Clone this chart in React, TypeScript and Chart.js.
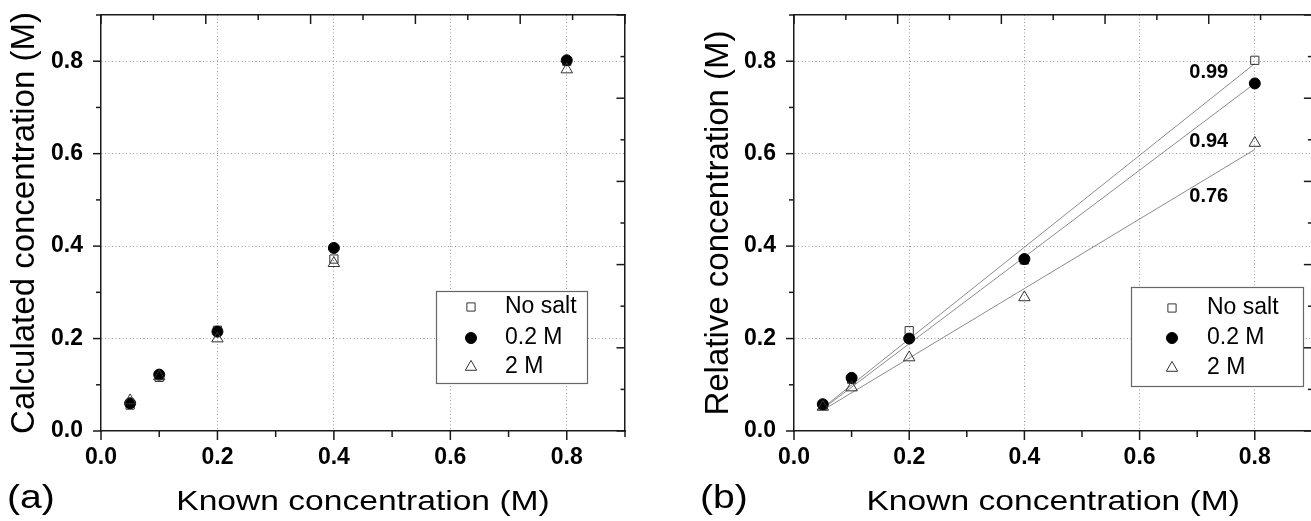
import React, { useEffect, useRef } from 'react';
import { Chart, registerables } from 'chart.js';

Chart.register(...registerables);

const FONT = "'Liberation Sans', Arial, Helvetica, sans-serif";
const NARROW = "'Liberation Sans Narrow', 'Arial Narrow', 'Liberation Sans', Arial, sans-serif";

// ---------- data ----------
const knownConc = [0.05, 0.1, 0.2, 0.4, 0.8];
const seriesLabels = ['No salt', '0.2 M', '2 M'];

// panel (a): calculated concentration
const calcNoSalt = [0.056, 0.116, 0.218, 0.372, 0.8];
const calc02M = [0.06, 0.122, 0.215, 0.396, 0.802];
const calc2M = [0.066, 0.118, 0.2, 0.363, 0.782];

// panel (b): relative concentration
const relNoSalt = [0.055, 0.112, 0.217, 0.37, 0.802];
const rel02M = [0.058, 0.115, 0.2, 0.372, 0.752];
const rel2M = [0.052, 0.094, 0.159, 0.289, 0.623];

// linear fits in panel (b)
const fitX = [0.05, 0.8];
const fitNoSalt = [0.05, 0.795];
const fit02M = [0.048, 0.752];
const fit2M = [0.045, 0.609];
const slopeTexts = ['0.99', '0.94', '0.76'];
const slopeTextX = [0.72, 0.72, 0.72];
const slopeTextY = [0.775, 0.627, 0.508];

const xTitle = 'Known concentration (M)';
const yTitles = ['Calculated concentration (M)', 'Relative concentration (M)'];
const panelLabels = ['(a)', '(b)'];

// ---------- styles ----------
const markerStyles = [
  { pointStyle: 'rect', radius: 5.8, fill: 'rgba(255,255,255,0)', stroke: '#333' },
  { pointStyle: 'circle', radius: 5.5, fill: '#000', stroke: '#000' },
  { pointStyle: 'triangle', radius: 6.6, fill: 'rgba(255,255,255,0)', stroke: '#333' },
];
const AXIS = '#1a1a1a';
const GRID = '#9a9a9a';

function drawMarker(ctx: CanvasRenderingContext2D, style: string, x: number, y: number, r: number, fill: string, stroke: string) {
  ctx.beginPath();
  if (style === 'circle') {
    ctx.arc(x, y, r, 0, Math.PI * 2);
  } else if (style === 'rect') {
    const s = r * Math.SQRT1_2;
    ctx.rect(x - s, y - s, 2 * s, 2 * s);
  } else {
    const a = (2 * Math.PI) / 3;
    ctx.moveTo(x, y - r);
    ctx.lineTo(x + r * Math.sin(a), y - r * Math.cos(a));
    ctx.lineTo(x + r * Math.sin(2 * a), y - r * Math.cos(2 * a));
    ctx.closePath();
  }
  ctx.fillStyle = fill;
  ctx.fill();
  ctx.strokeStyle = stroke;
  ctx.lineWidth = 1;
  ctx.stroke();
}

// ---------- plugins ----------
const frameTicksPlugin = {
  id: 'frameTicks',
  afterDraw(chart: any) {
    const { ctx, chartArea: ca } = chart;
    ctx.save();
    ctx.strokeStyle = AXIS;
    ctx.lineWidth = 1.5;
    const specs = [
      { id: 'x', side: 'bottom', step: 0.1, majorLen: 9, minorLen: 6 },
      { id: 'y', side: 'left', step: 0.1, majorLen: 8, minorLen: 5 },
      { id: 'x2', side: 'top', step: 0.1, majorLen: 9, minorLen: 5 },
      { id: 'y2', side: 'right', step: 0.1, majorLen: 8.5, minorLen: 4.5 },
    ];
    for (const s of specs) {
      const scale = chart.scales[s.id];
      if (!scale) continue;
      const n = Math.round((scale.max - scale.min) / s.step);
      for (let k = 0; k <= n; k++) {
        const v = scale.min + k * s.step;
        const major = k % 2 === 0;
        const len = major ? s.majorLen : s.minorLen;
        const p = scale.getPixelForValue(v);
        ctx.beginPath();
        if (s.side === 'bottom') { ctx.moveTo(p, ca.bottom); ctx.lineTo(p, ca.bottom + len); }
        else if (s.side === 'top') { ctx.moveTo(p, ca.top); ctx.lineTo(p, ca.top + len); }
        else if (s.side === 'left') { ctx.moveTo(ca.left - len, p); ctx.lineTo(ca.left, p); }
        else { ctx.moveTo(ca.right - len, p); ctx.lineTo(ca.right, p); }
        ctx.stroke();
      }
    }
    ctx.restore();
  },
};

const boxLegendPlugin = {
  id: 'boxLegend',
  afterDraw(chart: any, _args: any, o: any) {
    const { ctx } = chart;
    ctx.save();
    ctx.fillStyle = '#fff';
    ctx.fillRect(o.x, o.y, o.w, o.h);
    ctx.strokeStyle = '#666';
    ctx.lineWidth = 1.2;
    ctx.strokeRect(o.x + 0.5, o.y + 0.5, o.w, o.h);
    const items = chart.data.datasets.filter((d: any) => d.legendItem);
    items.forEach((d: any, i: number) => {
      const y = o.rowY[i];
      drawMarker(ctx, d.pointStyle, o.markerX, y, d.pointRadius, d.backgroundColor, d.borderColor);
      ctx.fillStyle = '#000';
      ctx.font = `${o.fontSize}px ${FONT}`;
      ctx.textAlign = 'left';
      ctx.textBaseline = 'middle';
      ctx.fillText(d.label, o.textX, y);
    });
    ctx.restore();
  },
};

const slopeLabelPlugin = {
  id: 'slopeLabels',
  afterDatasetsDraw(chart: any, _args: any, o: any) {
    if (!o || !o.show) return;
    const { ctx } = chart;
    const xs = chart.scales.x;
    const ys = chart.scales.y;
    ctx.save();
    ctx.font = `bold 20px ${FONT}`;
    ctx.fillStyle = '#000';
    ctx.textAlign = 'center';
    ctx.textBaseline = 'middle';
    slopeTexts.forEach((t, i) => {
      ctx.fillText(t, xs.getPixelForValue(slopeTextX[i]), ys.getPixelForValue(slopeTextY[i]));
    });
    ctx.restore();
  },
};

const panelTextPlugin = {
  id: 'panelText',
  afterDraw(chart: any, _args: any, o: any) {
    const { ctx, chartArea: ca } = chart;
    const title = chart.options.scales.x.title.text;
    ctx.save();
    ctx.fillStyle = '#000';
    ctx.font = `28px ${FONT}`;
    ctx.textAlign = 'center';
    ctx.textBaseline = 'alphabetic';
    ctx.translate((ca.left + ca.right) / 2, 510);
    ctx.scale(1.2, 1);
    ctx.fillText(title, 0, 0);
    ctx.restore();
    ctx.save();
    ctx.fillStyle = '#000';
    ctx.font = `34px ${FONT}`;
    ctx.textAlign = 'left';
    ctx.textBaseline = 'alphabetic';
    ctx.translate(o.labelX, 508);
    ctx.scale(1.15, 1);
    ctx.fillText(o.label, 0, 0);
    ctx.restore();
  },
};

// ---------- config ----------
function zeroPad(s: any) {
  s.paddingTop = 0;
  s.paddingBottom = 0;
  s.paddingLeft = 0;
  s.paddingRight = 0;
}

function buildConfig(p: any): any {
  const datasets: any[] = [];
  p.series.forEach((vals: number[], i: number) => {
    const m = markerStyles[i];
    datasets.push({
      label: seriesLabels[i],
      legendItem: true,
      data: knownConc.map((x, j) => ({ x, y: vals[j] })),
      pointStyle: m.pointStyle,
      pointRadius: m.radius,
      backgroundColor: m.fill,
      borderColor: m.stroke,
      borderWidth: 1,
      showLine: false,
      order: 3 - i,
      xAxisID: 'x',
      yAxisID: 'y',
    });
  });
  if (p.fits) {
    p.fits.forEach((vals: number[]) => {
      datasets.push({
        label: '',
        data: fitX.map((x, j) => ({ x, y: vals[j] })),
        showLine: true,
        pointRadius: 0,
        borderColor: '#8c8c8c',
        borderWidth: 1,
        backgroundColor: 'rgba(0,0,0,0)',
        order: 10,
        xAxisID: 'x',
        yAxisID: 'y',
      });
    });
  }
  const tickFont = { family: NARROW, size: 23, weight: 'bold' };
  const gridColor = (c: any) => (c.tick && c.tick.value > 0.001 ? GRID : 'rgba(0,0,0,0)');
  return {
    type: 'scatter',
    data: { datasets },
    plugins: [frameTicksPlugin, slopeLabelPlugin, boxLegendPlugin, panelTextPlugin],
    options: {
      responsive: false,
      animation: false,
      devicePixelRatio: 1,
      layout: { padding: p.layoutPad },
      events: [],
      plugins: {
        legend: { display: false },
        tooltip: { enabled: false },
        boxLegend: { ...p.legend, fontSize: 23 },
        slopeLabels: { show: !!p.fits },
        panelText: { label: p.panelLabel, labelX: p.labelX },
      },
      scales: {
        x: {
          type: 'linear', position: 'bottom', min: 0, max: 0.9,
          ticks: {
            stepSize: 0.2, includeBounds: false, padding: 13, color: '#000', font: tickFont,
            maxRotation: 0, autoSkip: false, callback: (v: any) => Number(v).toFixed(1),
          },
          grid: { drawTicks: false, color: gridColor, lineWidth: 1 },
          border: { display: true, color: AXIS, width: 1.5, dash: [1, 2.5] },
          title: { display: false, text: xTitle },
          afterFit: (s: any) => { s.height = 90; zeroPad(s); },
        },
        y: {
          type: 'linear', position: 'left', min: 0, max: 0.9,
          ticks: {
            stepSize: 0.2, includeBounds: false, padding: 18, color: '#000', font: tickFont,
            autoSkip: false, callback: (v: any) => Number(v).toFixed(1),
          },
          grid: { drawTicks: false, color: gridColor, lineWidth: 1 },
          border: { display: true, color: AXIS, width: 1.5, dash: [1, 2.5] },
          title: {
            display: true, text: p.yTitle, color: '#000',
            font: { family: FONT, size: 33, weight: 'normal' },
            padding: { top: p.yTitlePad, bottom: 0 },
          },
          afterFit: (s: any) => { s.width = p.yWidth; zeroPad(s); },
        },
        x2: {
          type: 'linear', position: 'top', min: 0, max: 1,
          ticks: { display: false },
          grid: { display: false, drawTicks: false },
          border: { display: true, color: AXIS, width: 1.5 },
          afterFit: (s: any) => { s.height = 0; zeroPad(s); },
        },
        y2: {
          type: 'linear', position: 'right', min: 0, max: 1,
          ticks: { display: false },
          grid: { display: false, drawTicks: false },
          border: { display: true, color: AXIS, width: 1.5 },
          afterFit: (s: any) => { s.width = 0; zeroPad(s); },
        },
      },
    },
  };
}

const leftPanel = {
  series: [calcNoSalt, calc02M, calc2M],
  fits: null,
  yTitle: yTitles[0],
  panelLabel: panelLabels[0],
  labelX: 7,
  layoutPad: { left: 0, right: 35, top: 15, bottom: 0 },
  yWidth: 101,
  yTitlePad: 5,
  legend: { x: 436, y: 291, w: 151, h: 92, markerX: 471, textX: 505, rowY: [307, 338, 367] },
};

const rightPanel = {
  series: [relNoSalt, rel02M, rel2M],
  fits: [fitNoSalt, fit02M, fit2M],
  yTitle: yTitles[1],
  panelLabel: panelLabels[1],
  labelX: 40,
  layoutPad: { left: 39, right: 1, top: 15, bottom: 0 },
  yWidth: 95,
  yTitlePad: 0,
  legend: { x: 471, y: 287, w: 172, h: 99, markerX: 512, textX: 547, rowY: [308, 338, 368] },
};

export default function App() {
  const leftRef = useRef<HTMLCanvasElement>(null);
  const rightRef = useRef<HTMLCanvasElement>(null);
  useEffect(() => {
    Chart.defaults.font.family = FONT;
    const c1 = new Chart(leftRef.current as HTMLCanvasElement, buildConfig(leftPanel));
    const c2 = new Chart(rightRef.current as HTMLCanvasElement, buildConfig(rightPanel));
    return () => {
      c1.destroy();
      c2.destroy();
    };
  }, []);
  return (
    <div style={{ position: 'absolute', left: 0, top: 0, width: 1311, height: 521, overflow: 'hidden', background: '#fff' }}>
      <canvas ref={leftRef} width={660} height={521} style={{ position: 'absolute', left: 0, top: 0, width: 660, height: 521 }} />
      <canvas ref={rightRef} width={660} height={521} style={{ position: 'absolute', left: 660, top: 0, width: 660, height: 521 }} />
    </div>
  );
}
